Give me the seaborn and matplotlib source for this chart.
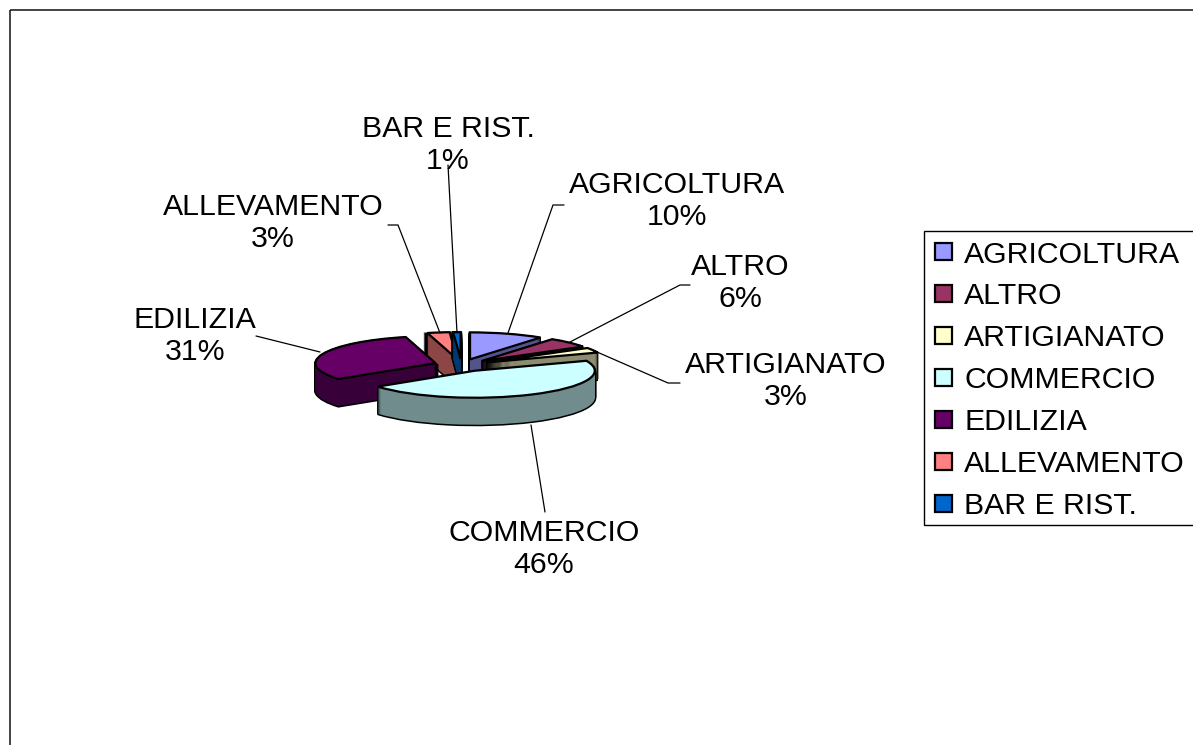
import numpy as np
import seaborn as sns
import matplotlib.pyplot as plt
from matplotlib.patches import Rectangle

# DATA

categories = ['AGRICOLTURA', 'ALTRO', 'ARTIGIANATO', 'COMMERCIO', 'EDILIZIA', 'ALLEVAMENTO', 'BAR E RIST.']
percent = [10, 6, 3, 46, 31, 3, 1]
top_hex = ['#9999FF', '#993366', '#FFFFCC', '#CCFFFF', '#660066', '#FF8080', '#0066CC']

# LAYOUT (pixels of the picture)

W, H = 1193, 745
cx, cy = 461.5, 365.3
rx, ry = 120, 27
depth = 27
# back slices get drawn first
draw_rank = [2, 3, 4, 6, 5, 0, 1]
label_xy = [(677, 201), (740, 283), (786, 381), (544, 549), (195, 336), (273, 223), (448, 145)]
leaders = [
    [(508, 333), (553, 205), (564, 205)],
    [(570, 342), (680, 285), (690, 285)],
    [(597, 352), (668, 383), (680, 383)],
    [(531, 425), (545, 512)],
    [(320, 352), (256, 336)],
    [(440, 333), (398, 225), (388, 225)],
    [(457, 333), (448, 165)],
]

sns.set_theme(style='white')
plt.rcParams['font.family'] = ['Liberation Sans', 'DejaVu Sans']

top_colors = sns.color_palette(top_hex)
side_colors = [tuple(c * 0.55 for c in col) for col in top_colors]
explode = [0.23] * len(percent)

fig = plt.figure(figsize=(W / 100, H / 100), dpi=100)
ax = fig.add_axes([0, 0, 1, 1])


def draw_pie(offset, colors, lw, edge, z):
    wedges, _ = ax.pie(percent, explode=explode, colors=colors, startangle=90, counterclock=False,
                       center=(0, -offset / ry), wedgeprops={'linewidth': lw, 'edgecolor': edge})
    for w, r in zip(wedges, draw_rank):
        w.set_zorder(r * 10 + z)
    return wedges


# FAKE 3D: stack of pies, black silhouette first, then side colour, then the top
for d in range(depth, 0, -1):
    draw_pie(d, top_colors, 2.2, 'black', 1)
for d in range(depth, 0, -1):
    draw_pie(d, side_colors, 0, 'none', 2)
top_wedges = draw_pie(0, top_colors, 1.6, 'black', 3)

ax.set_aspect('auto')
ax.set_xlim(-cx / rx, (W - cx) / rx)
ax.set_ylim(-(H - cy) / ry, cy / ry)
ax.axis('off')

# TEXT, FRAME AND LEGEND

over = fig.add_axes([0, 0, 1, 1], facecolor='none')
over.set_xlim(0, W)
over.set_ylim(H, 0)
over.axis('off')

over.add_patch(Rectangle((10, 10), W + 20, H + 20, fill=False, edgecolor='#222222', linewidth=1.2))

for name, pct, (x, y), line in zip(categories, percent, label_xy, leaders):
    over.text(x, y, f'{name}\n{pct}%', ha='center', va='center', fontsize=21.8, color='black', linespacing=1.16)
    xs, ys = zip(*line)
    over.plot(xs, ys, color='black', lw=0.9)

# legend box runs off the right edge, so it is drawn apart from the legend
over.add_patch(Rectangle((924, 231), W, 294, facecolor='white', edgecolor='black', linewidth=1, zorder=4))
over.legend(top_wedges, categories, loc='upper left', bbox_to_anchor=(923, 229),
            bbox_transform=over.transData, borderaxespad=0, fontsize=21.8, frameon=False,
            handlelength=0.58, handleheight=0.5, handletextpad=0.4, borderpad=0.38,
            labelspacing=0.46, labelcolor='black')

fig.savefig('out.png', dpi=100)
